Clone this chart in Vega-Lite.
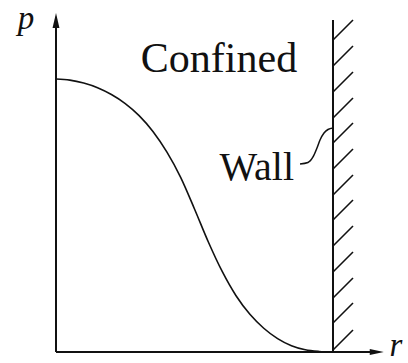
{
  "$schema": "https://vega.github.io/schema/vega-lite/v6.json",
  "width": 408,
  "height": 363,
  "autosize": {"type": "none"},
  "padding": 0,
  "background": "white",
  "config": {"view": {"stroke": null}},
  "datasets": {
    "axes": [
      {"r": 0, "p": 0, "r2": 0, "p2": 1.216},
      {"r": 0, "p": 0, "r2": 1.16, "p2": 0}
    ],
    "wall": [
      {"r": 1, "p": 0, "r2": 1, "p2": 1.216}
    ],
    "hatch": [
      {"r": 1, "p": 1.1429, "r2": 1.0722, "p2": 1.2162},
      {"r": 1, "p": 1.0476, "r2": 1.0722, "p2": 1.1209},
      {"r": 1, "p": 0.9524, "r2": 1.0722, "p2": 1.0257},
      {"r": 1, "p": 0.8571, "r2": 1.0722, "p2": 0.9304},
      {"r": 1, "p": 0.7656, "r2": 1.0722, "p2": 0.8389},
      {"r": 1, "p": 0.6703, "r2": 1.0722, "p2": 0.7436},
      {"r": 1, "p": 0.5751, "r2": 1.0722, "p2": 0.6484},
      {"r": 1, "p": 0.4835, "r2": 1.0722, "p2": 0.5568},
      {"r": 1, "p": 0.3883, "r2": 1.0722, "p2": 0.4616},
      {"r": 1, "p": 0.2930, "r2": 1.0722, "p2": 0.3663},
      {"r": 1, "p": 0.1978, "r2": 1.0722, "p2": 0.2711},
      {"r": 1, "p": 0.1062, "r2": 1.0722, "p2": 0.1795},
      {"r": 1, "p": 0.0073, "r2": 1.0722, "p2": 0.0806}
    ],
    "curve": [
      {"r": 0, "p": 1.0},
      {"r": 0.05, "p": 0.996},
      {"r": 0.1, "p": 0.985},
      {"r": 0.15, "p": 0.968},
      {"r": 0.2, "p": 0.943},
      {"r": 0.25, "p": 0.91},
      {"r": 0.3, "p": 0.866},
      {"r": 0.35, "p": 0.808},
      {"r": 0.4, "p": 0.733},
      {"r": 0.45, "p": 0.64},
      {"r": 0.5, "p": 0.524},
      {"r": 0.55, "p": 0.403},
      {"r": 0.6, "p": 0.295},
      {"r": 0.65, "p": 0.206},
      {"r": 0.7, "p": 0.138},
      {"r": 0.75, "p": 0.087},
      {"r": 0.8, "p": 0.049},
      {"r": 0.85, "p": 0.023},
      {"r": 0.9, "p": 0.008},
      {"r": 0.95, "p": 0.002},
      {"r": 1.0, "p": 0}
    ],
    "leader": [
      {"r": 0.8809, "p": 0.6886},
      {"r": 0.9097, "p": 0.6941},
      {"r": 0.9278, "p": 0.7143},
      {"r": 0.9422, "p": 0.7473},
      {"r": 0.9531, "p": 0.7766},
      {"r": 0.9675, "p": 0.8022},
      {"r": 0.9819, "p": 0.815},
      {"r": 1.0, "p": 0.8205}
    ],
    "arrowY": [{"r": 0, "p": 1.214}],
    "arrowX": [{"r": 1.158, "p": 0}],
    "labels": [
      {"r": 0.5884, "p": 1.0256, "text": "Confined"}
    ],
    "wallLabel": [
      {"r": 0.8592, "p": 0.63, "text": "Wall"}
    ],
    "axisLabels": [
      {"r": -0.1083, "p": 1.1832, "text": "p"},
      {"r": 1.2274, "p": -0.01465, "text": "r"}
    ]
  },
  "encoding": {
    "x": {"field": "r", "type": "quantitative", "axis": null, "scale": {"domain": [-0.20217, 1.27076], "nice": false, "zero": false}},
    "y": {"field": "p", "type": "quantitative", "axis": null, "scale": {"domain": [-0.040293, 1.289377], "nice": false, "zero": false}}
  },
  "layer": [
    {
      "data": {"name": "axes"},
      "mark": {"type": "rule", "stroke": "#111111", "strokeWidth": 2},
      "encoding": {"x2": {"field": "r2"}, "y2": {"field": "p2"}}
    },
    {
      "data": {"name": "wall"},
      "mark": {"type": "rule", "stroke": "#111111", "strokeWidth": 2},
      "encoding": {"x2": {"field": "r2"}, "y2": {"field": "p2"}}
    },
    {
      "data": {"name": "hatch"},
      "mark": {"type": "rule", "stroke": "#111111", "strokeWidth": 1.6},
      "encoding": {"x2": {"field": "r2"}, "y2": {"field": "p2"}}
    },
    {
      "data": {"name": "curve"},
      "mark": {"type": "line", "stroke": "#111111", "strokeWidth": 1.6, "interpolate": "monotone"},
      "encoding": {"order": {"field": "r", "type": "quantitative"}}
    },
    {
      "data": {"name": "leader"},
      "mark": {"type": "line", "stroke": "#111111", "strokeWidth": 1.5, "interpolate": "monotone"},
      "encoding": {"order": {"field": "r", "type": "quantitative"}}
    },
    {
      "data": {"name": "arrowY"},
      "mark": {"type": "point", "shape": "M0,-1L0.46,1L-0.46,1Z", "size": 225, "filled": true, "fill": "#111111", "opacity": 1, "strokeWidth": 0}
    },
    {
      "data": {"name": "arrowX"},
      "mark": {"type": "point", "shape": "M1,0L-1,-0.42L-1,0.42Z", "size": 196, "filled": true, "fill": "#111111", "opacity": 1, "strokeWidth": 0}
    },
    {
      "data": {"name": "labels"},
      "mark": {"type": "text", "font": "Liberation Serif", "fontSize": 42, "align": "center", "baseline": "alphabetic", "fill": "#111111"},
      "encoding": {"text": {"field": "text"}}
    },
    {
      "data": {"name": "wallLabel"},
      "mark": {"type": "text", "font": "Liberation Serif", "fontSize": 40, "align": "right", "baseline": "alphabetic", "fill": "#111111"},
      "encoding": {"text": {"field": "text"}}
    },
    {
      "data": {"name": "axisLabels"},
      "mark": {"type": "text", "font": "Liberation Serif", "fontSize": 33, "fontStyle": "italic", "align": "center", "baseline": "alphabetic", "fill": "#111111"},
      "encoding": {"text": {"field": "text"}}
    }
  ]
}
